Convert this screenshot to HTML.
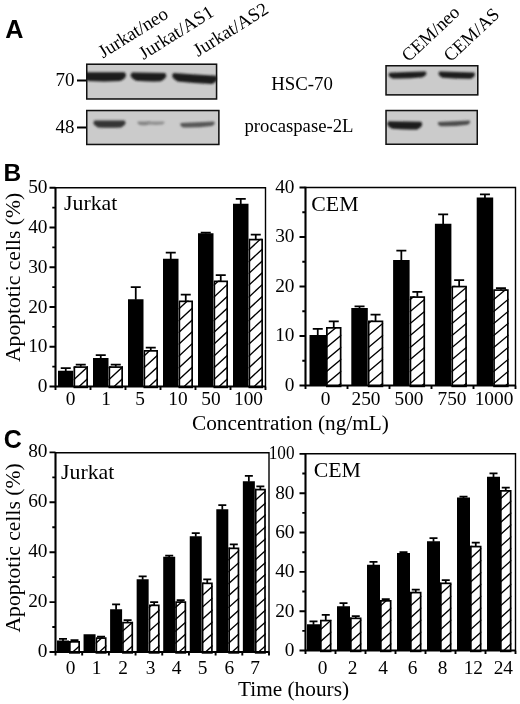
<!DOCTYPE html>
<html lang="en"><head><meta charset="utf-8"><title>Figure</title>
<style>html,body{margin:0;padding:0;background:#fff}svg{display:block}.ff-s{font-family:"Liberation Serif","Times New Roman",serif}.ff-a{font-family:"Liberation Sans",Arial,sans-serif}text{fill:#000}</style>
</head><body>
<svg width="520" height="704" viewBox="0 0 520 704">
<defs><filter id="b1" x="-20%" y="-50%" width="140%" height="200%"><feGaussianBlur stdDeviation="1.1"/></filter><filter id="b2" x="-20%" y="-50%" width="140%" height="200%"><feGaussianBlur stdDeviation="1.4"/></filter></defs>
<rect width="520" height="704" fill="#fff"/>
<text x="5.3" y="38" font-size="25.2" text-anchor="start" class="ff-a" font-weight="bold" >A</text>
<text x="3.6" y="181" font-size="24.5" text-anchor="start" class="ff-a" font-weight="bold" >B</text>
<text x="3.8" y="447.7" font-size="25" text-anchor="start" class="ff-a" font-weight="bold" >C</text>
<clipPath id="ka"><rect x="86" y="63.5" width="131.3" height="36.2"/></clipPath>
<rect x="86" y="63.5" width="131.3" height="36.2" fill="#cbcbcb"/>
<g clip-path="url(#ka)">
<path d="M84 72.3 Q104.25 72.3 124.5 72.3 Q128.9 76.7 120.1 81.10000000000001 Q104.25 81.9 88.4 81.10000000000001 Q79.6 76.7 84 72.3Z" fill="#1c1c1c" opacity="1" filter="url(#b1)"/>
<path d="M132 72.5 Q148.5 72.86 165 73.1 Q169.1 77.19999999999999 160.9 81.29999999999998 Q148.5 81.67999999999999 136.1 80.69999999999999 Q127.9 76.6 132 72.5Z" fill="#1c1c1c" opacity="1" filter="url(#b1)"/>
<path d="M173.5 73.1 Q194.9 74.66 216.3 75.69999999999999 Q220.5 79.89999999999999 212.10000000000002 84.1 Q194.9 83.08 177.7 81.5 Q169.3 77.3 173.5 73.1Z" fill="#1c1c1c" opacity="1" filter="url(#b1)"/>
</g>
<rect x="86.75" y="64.25" width="129.8" height="34.7" fill="none" stroke="#111" stroke-width="1.5"/>
<clipPath id="kb"><rect x="86" y="109.8" width="133.6" height="35.39999999999999"/></clipPath>
<rect x="86" y="109.8" width="133.6" height="35.39999999999999" fill="#cbcbcb"/>
<g clip-path="url(#kb)">
<path d="M94.5 120.6 Q109.5 120.6 124.5 120.6 Q127.9 124 121.1 127.4 Q109.5 128.20000000000002 97.9 127.4 Q91.1 124 94.5 120.6Z" fill="#353535" opacity="1" filter="url(#b1)"/>
<path d="M138 121.6 Q143.75 121.6 149.5 121.6 Q151.2 123.3 147.8 125.0 Q143.75 125.8 139.7 125.0 Q136.3 123.3 138 121.6Z" fill="#858585" opacity="1" filter="url(#b1)"/>
<path d="M148 121.6 Q156.0 121.6 164 121.6 Q165.5 123.1 162.5 124.6 Q156.0 125.39999999999999 149.5 124.6 Q146.5 123.1 148 121.6Z" fill="#909090" opacity="1" filter="url(#b1)"/>
<path d="M181 122.9 Q197.5 122.0 214 121.4 Q216.3 123.7 211.7 126.0 Q197.5 127.85 183.3 127.5 Q178.7 125.2 181 122.9Z" fill="#565656" opacity="1" filter="url(#b1)"/>
</g>
<rect x="86.75" y="110.55" width="132.1" height="33.89999999999999" fill="none" stroke="#111" stroke-width="1.5"/>
<clipPath id="kc"><rect x="385.3" y="65" width="93.19999999999999" height="30.599999999999994"/></clipPath>
<rect x="385.3" y="65" width="93.19999999999999" height="30.599999999999994" fill="#cbcbcb"/>
<g clip-path="url(#kc)">
<path d="M389.5 72.69999999999999 Q407.5 71.97999999999999 425.5 71.49999999999999 Q428.4 74.39999999999999 422.6 77.3 Q407.5 78.94 392.4 78.5 Q386.6 75.6 389.5 72.69999999999999Z" fill="#1c1c1c" opacity="1" filter="url(#b1)"/>
<path d="M439.5 71.5 Q456.75 72.1 474 72.5 Q477.1 75.6 470.9 78.69999999999999 Q456.75 78.79999999999998 442.6 77.69999999999999 Q436.4 74.6 439.5 71.5Z" fill="#1c1c1c" opacity="1" filter="url(#b1)"/>
</g>
<rect x="386.05" y="65.75" width="91.69999999999999" height="29.099999999999994" fill="none" stroke="#111" stroke-width="1.5"/>
<clipPath id="kd"><rect x="385.3" y="109.8" width="92.69999999999999" height="35.2"/></clipPath>
<rect x="385.3" y="109.8" width="92.69999999999999" height="35.2" fill="#cbcbcb"/>
<g clip-path="url(#kd)">
<path d="M388.5 121.2 Q404.75 121.56 421 121.8 Q424.8 125.6 417.2 129.4 Q404.75 129.78000000000003 392.3 128.8 Q384.7 125 388.5 121.2Z" fill="#1c1c1c" opacity="1" filter="url(#b1)"/>
<path d="M438.5 122.10000000000001 Q454.0 121.14000000000001 469.5 120.50000000000001 Q471.6 122.60000000000001 467.4 124.7 Q454.0 126.61999999999999 440.6 126.3 Q436.4 124.2 438.5 122.10000000000001Z" fill="#4c4c4c" opacity="1" filter="url(#b1)"/>
</g>
<rect x="386.05" y="110.55" width="91.19999999999999" height="33.7" fill="none" stroke="#111" stroke-width="1.5"/>
<text x="74.5" y="85.5" font-size="19" text-anchor="end" class="ff-s" font-weight="normal" >70</text>
<text x="74.5" y="133" font-size="19" text-anchor="end" class="ff-s" font-weight="normal" >48</text>
<path d="M77 80.5H86M77 127.5H86" stroke="#000" stroke-width="1.9"/>
<text x="271.3" y="89.8" font-size="18.8" text-anchor="start" class="ff-s" font-weight="normal" >HSC-70</text>
<text x="244.5" y="132.3" font-size="18.7" text-anchor="start" class="ff-s" font-weight="normal" >procaspase-2L</text>
<text transform="translate(103 58.5) rotate(-32)" font-size="18.8" class="ff-s">Jurkat/neo</text>
<text transform="translate(143.5 60) rotate(-32)" font-size="18.8" class="ff-s">Jurkat/AS1</text>
<text transform="translate(198 57) rotate(-32)" font-size="18.8" class="ff-s">Jurkat/AS2</text>
<text transform="translate(408.5 62.5) rotate(-43)" font-size="18.4" class="ff-s">CEM/neo</text>
<text transform="translate(450.5 62.5) rotate(-43)" font-size="18.4" class="ff-s">CEM/AS</text>
<path d="M55.5 187.7H265.5V386.5" stroke="#000" stroke-width="1.4" fill="none"/>
<rect x="58" y="370.75" width="15.5" height="15.75" fill="#000"/>
<path d="M65.75 371.25V368M60.75 368H70.75" stroke="#000" stroke-width="1.75" fill="none"/>
<clipPath id="c1"><rect x="73.5" y="366.25" width="14.5" height="20.25"/></clipPath>
<rect x="73.5" y="366.25" width="14.5" height="20.25" fill="#fff"/>
<path d="M73.50 403.60L88.00 390.12M73.50 391.80L88.00 378.31M73.50 380.00L88.00 366.51M73.50 368.20L88.00 354.71" stroke="#000" stroke-width="1.35" fill="none" clip-path="url(#c1)"/>
<rect x="74.35" y="367.1" width="12.8" height="20.25" fill="none" stroke="#000" stroke-width="1.7"/>
<path d="M80.75 366.75V364.5M75.75 364.5H85.75" stroke="#000" stroke-width="1.75" fill="none"/>
<rect x="93" y="358" width="15.5" height="28.5" fill="#000"/>
<path d="M100.75 358.5V355M95.75 355H105.75" stroke="#000" stroke-width="1.75" fill="none"/>
<clipPath id="c2"><rect x="108.5" y="366.25" width="14.5" height="20.25"/></clipPath>
<rect x="108.5" y="366.25" width="14.5" height="20.25" fill="#fff"/>
<path d="M108.50 403.60L123.00 390.12M108.50 391.80L123.00 378.31M108.50 380.00L123.00 366.51M108.50 368.20L123.00 354.71" stroke="#000" stroke-width="1.35" fill="none" clip-path="url(#c2)"/>
<rect x="109.35" y="367.1" width="12.8" height="20.25" fill="none" stroke="#000" stroke-width="1.7"/>
<path d="M115.75 366.75V364.5M110.75 364.5H120.75" stroke="#000" stroke-width="1.75" fill="none"/>
<rect x="128" y="299.25" width="15.5" height="87.25" fill="#000"/>
<path d="M135.75 299.75V287M130.75 287H140.75" stroke="#000" stroke-width="1.75" fill="none"/>
<clipPath id="c3"><rect x="143.5" y="350" width="14.5" height="36.5"/></clipPath>
<rect x="143.5" y="350" width="14.5" height="36.5" fill="#fff"/>
<path d="M143.50 403.60L158.00 390.12M143.50 391.80L158.00 378.31M143.50 380.00L158.00 366.51M143.50 368.20L158.00 354.71M143.50 356.40L158.00 342.91" stroke="#000" stroke-width="1.35" fill="none" clip-path="url(#c3)"/>
<rect x="144.35" y="350.85" width="12.8" height="36.5" fill="none" stroke="#000" stroke-width="1.7"/>
<path d="M150.75 350.5V347.5M145.75 347.5H155.75" stroke="#000" stroke-width="1.75" fill="none"/>
<rect x="163" y="258.75" width="15.5" height="127.75" fill="#000"/>
<path d="M170.75 259.25V252.5M165.75 252.5H175.75" stroke="#000" stroke-width="1.75" fill="none"/>
<clipPath id="c4"><rect x="178.5" y="300.5" width="14.5" height="86.0"/></clipPath>
<rect x="178.5" y="300.5" width="14.5" height="86.0" fill="#fff"/>
<path d="M178.50 403.60L193.00 390.12M178.50 391.80L193.00 378.31M178.50 380.00L193.00 366.51M178.50 368.20L193.00 354.71M178.50 356.40L193.00 342.91M178.50 344.60L193.00 331.11M178.50 332.80L193.00 319.31M178.50 321.00L193.00 307.51M178.50 309.20L193.00 295.71" stroke="#000" stroke-width="1.35" fill="none" clip-path="url(#c4)"/>
<rect x="179.35" y="301.35" width="12.8" height="86.0" fill="none" stroke="#000" stroke-width="1.7"/>
<path d="M185.75 301.0V294.5M180.75 294.5H190.75" stroke="#000" stroke-width="1.75" fill="none"/>
<rect x="198" y="233.25" width="15.5" height="153.25" fill="#000"/>
<path d="M205.75 233.75V232.6M200.75 232.6H210.75" stroke="#000" stroke-width="1.75" fill="none"/>
<clipPath id="c5"><rect x="213.5" y="280.5" width="14.5" height="106.0"/></clipPath>
<rect x="213.5" y="280.5" width="14.5" height="106.0" fill="#fff"/>
<path d="M213.50 403.60L228.00 390.12M213.50 391.80L228.00 378.31M213.50 380.00L228.00 366.51M213.50 368.20L228.00 354.71M213.50 356.40L228.00 342.91M213.50 344.60L228.00 331.11M213.50 332.80L228.00 319.31M213.50 321.00L228.00 307.51M213.50 309.20L228.00 295.71M213.50 297.40L228.00 283.91M213.50 285.60L228.00 272.11" stroke="#000" stroke-width="1.35" fill="none" clip-path="url(#c5)"/>
<rect x="214.35" y="281.35" width="12.8" height="106.0" fill="none" stroke="#000" stroke-width="1.7"/>
<path d="M220.75 281.0V275M215.75 275H225.75" stroke="#000" stroke-width="1.75" fill="none"/>
<rect x="233" y="203.75" width="15.5" height="182.75" fill="#000"/>
<path d="M240.75 204.25V198.75M235.75 198.75H245.75" stroke="#000" stroke-width="1.75" fill="none"/>
<clipPath id="c6"><rect x="248.5" y="238.75" width="14.5" height="147.75"/></clipPath>
<rect x="248.5" y="238.75" width="14.5" height="147.75" fill="#fff"/>
<path d="M248.50 403.60L263.00 390.12M248.50 391.80L263.00 378.31M248.50 380.00L263.00 366.51M248.50 368.20L263.00 354.71M248.50 356.40L263.00 342.91M248.50 344.60L263.00 331.11M248.50 332.80L263.00 319.31M248.50 321.00L263.00 307.51M248.50 309.20L263.00 295.71M248.50 297.40L263.00 283.91M248.50 285.60L263.00 272.11M248.50 273.80L263.00 260.31M248.50 262.00L263.00 248.51M248.50 250.20L263.00 236.71M248.50 238.40L263.00 224.91" stroke="#000" stroke-width="1.35" fill="none" clip-path="url(#c6)"/>
<rect x="249.35" y="239.6" width="12.8" height="147.75" fill="none" stroke="#000" stroke-width="1.7"/>
<path d="M255.75 239.25V234.5M250.75 234.5H260.75" stroke="#000" stroke-width="1.75" fill="none"/>
<path d="M55.5 186.89999999999998V386.5M54.7 386.5H266.0" stroke="#000" stroke-width="2.1" fill="none"/>
<path d="M49.5 386.50H55.5M49.5 346.75H55.5M49.5 307.00H55.5M49.5 267.25H55.5M49.5 227.50H55.5M49.5 187.75H55.5M52.3 366.62H55.5M52.3 326.88H55.5M52.3 287.12H55.5M52.3 247.38H55.5M52.3 207.62H55.5M55.50 386.5V390.0M90.50 386.5V390.0M125.50 386.5V390.0M160.50 386.5V390.0M195.50 386.5V390.0M230.50 386.5V390.0M265.50 386.5V390.0" stroke="#000" stroke-width="1.9" fill="none"/>
<text transform="translate(47.5 392.0) scale(1.07 1)" font-size="18.1" text-anchor="end" class="ff-s" >0</text>
<text transform="translate(47.5 352.25) scale(1.07 1)" font-size="18.1" text-anchor="end" class="ff-s" >10</text>
<text transform="translate(47.5 312.5) scale(1.07 1)" font-size="18.1" text-anchor="end" class="ff-s" >20</text>
<text transform="translate(47.5 272.75) scale(1.07 1)" font-size="18.1" text-anchor="end" class="ff-s" >30</text>
<text transform="translate(47.5 233.0) scale(1.07 1)" font-size="18.1" text-anchor="end" class="ff-s" >40</text>
<text transform="translate(47.5 193.25) scale(1.07 1)" font-size="18.1" text-anchor="end" class="ff-s" >50</text>
<text transform="translate(70.5 405) scale(1.07 1)" font-size="18.1" text-anchor="middle" class="ff-s" >0</text>
<text transform="translate(106 405) scale(1.07 1)" font-size="18.1" text-anchor="middle" class="ff-s" >1</text>
<text transform="translate(140 405) scale(1.07 1)" font-size="18.1" text-anchor="middle" class="ff-s" >5</text>
<text transform="translate(178 405) scale(1.07 1)" font-size="18.1" text-anchor="middle" class="ff-s" >10</text>
<text transform="translate(211 405) scale(1.07 1)" font-size="18.1" text-anchor="middle" class="ff-s" >50</text>
<text transform="translate(248.5 405) scale(1.07 1)" font-size="18.1" text-anchor="middle" class="ff-s" >100</text>
<text x="64" y="209.5" font-size="21.8" text-anchor="start" class="ff-s" font-weight="normal" >Jurkat</text>
<path d="M305.5 187.5H515.5V385.5" stroke="#000" stroke-width="1.4" fill="none"/>
<rect x="309.5" y="335" width="16.5" height="50.5" fill="#000"/>
<path d="M317.75 335.5V328.75M312.75 328.75H322.75" stroke="#000" stroke-width="1.75" fill="none"/>
<clipPath id="c7"><rect x="326.0" y="327" width="15.5" height="58.5"/></clipPath>
<rect x="326.0" y="327" width="15.5" height="58.5" fill="#fff"/>
<path d="M326.00 408.00L341.50 394.98M326.00 396.00L341.50 382.98M326.00 384.00L341.50 370.98M326.00 372.00L341.50 358.98M326.00 360.00L341.50 346.98M326.00 348.00L341.50 334.98M326.00 336.00L341.50 322.98" stroke="#000" stroke-width="1.35" fill="none" clip-path="url(#c7)"/>
<rect x="326.85" y="327.85" width="13.8" height="58.5" fill="none" stroke="#000" stroke-width="1.7"/>
<path d="M333.75 327.5V321.25M328.75 321.25H338.75" stroke="#000" stroke-width="1.75" fill="none"/>
<rect x="351.3" y="308" width="16.5" height="77.5" fill="#000"/>
<path d="M359.55 308.5V306.25M354.55 306.25H364.55" stroke="#000" stroke-width="1.75" fill="none"/>
<clipPath id="c8"><rect x="367.8" y="320.5" width="15.5" height="65.0"/></clipPath>
<rect x="367.8" y="320.5" width="15.5" height="65.0" fill="#fff"/>
<path d="M367.80 408.00L383.30 394.98M367.80 396.00L383.30 382.98M367.80 384.00L383.30 370.98M367.80 372.00L383.30 358.98M367.80 360.00L383.30 346.98M367.80 348.00L383.30 334.98M367.80 336.00L383.30 322.98M367.80 324.00L383.30 310.98" stroke="#000" stroke-width="1.35" fill="none" clip-path="url(#c8)"/>
<rect x="368.65000000000003" y="321.35" width="13.8" height="65.0" fill="none" stroke="#000" stroke-width="1.7"/>
<path d="M375.55 321.0V314.5M370.55 314.5H380.55" stroke="#000" stroke-width="1.75" fill="none"/>
<rect x="393.1" y="260" width="16.5" height="125.5" fill="#000"/>
<path d="M401.35 260.5V250.5M396.35 250.5H406.35" stroke="#000" stroke-width="1.75" fill="none"/>
<clipPath id="c9"><rect x="409.6" y="296.25" width="15.5" height="89.25"/></clipPath>
<rect x="409.6" y="296.25" width="15.5" height="89.25" fill="#fff"/>
<path d="M409.60 408.00L425.10 394.98M409.60 396.00L425.10 382.98M409.60 384.00L425.10 370.98M409.60 372.00L425.10 358.98M409.60 360.00L425.10 346.98M409.60 348.00L425.10 334.98M409.60 336.00L425.10 322.98M409.60 324.00L425.10 310.98M409.60 312.00L425.10 298.98M409.60 300.00L425.10 286.98" stroke="#000" stroke-width="1.35" fill="none" clip-path="url(#c9)"/>
<rect x="410.45000000000005" y="297.1" width="13.8" height="89.25" fill="none" stroke="#000" stroke-width="1.7"/>
<path d="M417.35 296.75V291.75M412.35 291.75H422.35" stroke="#000" stroke-width="1.75" fill="none"/>
<rect x="434.9" y="223.75" width="16.5" height="161.75" fill="#000"/>
<path d="M443.15 224.25V214.25M438.15 214.25H448.15" stroke="#000" stroke-width="1.75" fill="none"/>
<clipPath id="c10"><rect x="451.4" y="285.75" width="15.5" height="99.75"/></clipPath>
<rect x="451.4" y="285.75" width="15.5" height="99.75" fill="#fff"/>
<path d="M451.40 408.00L466.90 394.98M451.40 396.00L466.90 382.98M451.40 384.00L466.90 370.98M451.40 372.00L466.90 358.98M451.40 360.00L466.90 346.98M451.40 348.00L466.90 334.98M451.40 336.00L466.90 322.98M451.40 324.00L466.90 310.98M451.40 312.00L466.90 298.98M451.40 300.00L466.90 286.98M451.40 288.00L466.90 274.98" stroke="#000" stroke-width="1.35" fill="none" clip-path="url(#c10)"/>
<rect x="452.25" y="286.6" width="13.8" height="99.75" fill="none" stroke="#000" stroke-width="1.7"/>
<path d="M459.15 286.25V280M454.15 280H464.15" stroke="#000" stroke-width="1.75" fill="none"/>
<rect x="476.7" y="197.5" width="16.5" height="188.0" fill="#000"/>
<path d="M484.95 198.0V194.25M479.95 194.25H489.95" stroke="#000" stroke-width="1.75" fill="none"/>
<clipPath id="c11"><rect x="493.2" y="289.25" width="15.5" height="96.25"/></clipPath>
<rect x="493.2" y="289.25" width="15.5" height="96.25" fill="#fff"/>
<path d="M493.20 408.00L508.70 394.98M493.20 396.00L508.70 382.98M493.20 384.00L508.70 370.98M493.20 372.00L508.70 358.98M493.20 360.00L508.70 346.98M493.20 348.00L508.70 334.98M493.20 336.00L508.70 322.98M493.20 324.00L508.70 310.98M493.20 312.00L508.70 298.98M493.20 300.00L508.70 286.98M493.20 288.00L508.70 274.98" stroke="#000" stroke-width="1.35" fill="none" clip-path="url(#c11)"/>
<rect x="494.05" y="290.1" width="13.8" height="96.25" fill="none" stroke="#000" stroke-width="1.7"/>
<path d="M500.95 289.75V288M495.95 288H505.95" stroke="#000" stroke-width="1.75" fill="none"/>
<path d="M305.5 186.7V385.5M304.7 385.5H516.0" stroke="#000" stroke-width="2.1" fill="none"/>
<path d="M299.5 385.50H305.5M299.5 336.00H305.5M299.5 286.50H305.5M299.5 237.00H305.5M299.5 187.50H305.5M302.3 360.75H305.5M302.3 311.25H305.5M302.3 261.75H305.5M302.3 212.25H305.5M305.50 385.5V389.0M347.50 385.5V389.0M389.50 385.5V389.0M431.50 385.5V389.0M473.50 385.5V389.0M515.50 385.5V389.0" stroke="#000" stroke-width="1.9" fill="none"/>
<text transform="translate(294.5 390.5) scale(1.07 1)" font-size="18.1" text-anchor="end" class="ff-s" >0</text>
<text transform="translate(294.5 341.0) scale(1.07 1)" font-size="18.1" text-anchor="end" class="ff-s" >10</text>
<text transform="translate(294.5 291.5) scale(1.07 1)" font-size="18.1" text-anchor="end" class="ff-s" >20</text>
<text transform="translate(294.5 242.0) scale(1.07 1)" font-size="18.1" text-anchor="end" class="ff-s" >30</text>
<text transform="translate(294.5 192.5) scale(1.07 1)" font-size="18.1" text-anchor="end" class="ff-s" >40</text>
<text transform="translate(325.5 405) scale(1.07 1)" font-size="18.1" text-anchor="middle" class="ff-s" >0</text>
<text transform="translate(366 405) scale(1.07 1)" font-size="18.1" text-anchor="middle" class="ff-s" >250</text>
<text transform="translate(409 405) scale(1.07 1)" font-size="18.1" text-anchor="middle" class="ff-s" >500</text>
<text transform="translate(452 405) scale(1.07 1)" font-size="18.1" text-anchor="middle" class="ff-s" >750</text>
<text transform="translate(494 405) scale(1.07 1)" font-size="18.1" text-anchor="middle" class="ff-s" >1000</text>
<text x="311.3" y="211.2" font-size="21.8" text-anchor="start" class="ff-s" font-weight="normal" >CEM</text>
<text x="192" y="430" font-size="21.3" text-anchor="start" class="ff-s" font-weight="normal" >Concentration (ng/mL)</text>
<text transform="translate(19.7 362) rotate(-90)" font-size="21.6" class="ff-s">Apoptotic cells (%)</text>
<path d="M55.5 452.7H269V652" stroke="#000" stroke-width="1.4" fill="none"/>
<rect x="57.0" y="640.5" width="12.0" height="11.5" fill="#000"/>
<path d="M63.0 641.0V638.75M59.0 638.75H67.0" stroke="#000" stroke-width="1.75" fill="none"/>
<clipPath id="c12"><rect x="69.0" y="641" width="11.0" height="11"/></clipPath>
<rect x="69.0" y="641" width="11.0" height="11" fill="#fff"/>
<path d="M69.00 667.30L80.00 657.40M69.00 655.40L80.00 645.50M69.00 643.50L80.00 633.60" stroke="#000" stroke-width="1.35" fill="none" clip-path="url(#c12)"/>
<rect x="69.85" y="641.85" width="9.3" height="11" fill="none" stroke="#000" stroke-width="1.7"/>
<path d="M74.5 641.5V640M70.5 640H78.5" stroke="#000" stroke-width="1.75" fill="none"/>
<rect x="83.55" y="634.25" width="12.0" height="17.75" fill="#000"/>
<clipPath id="c13"><rect x="95.55" y="637.25" width="11.0" height="14.75"/></clipPath>
<rect x="95.55" y="637.25" width="11.0" height="14.75" fill="#fff"/>
<path d="M95.55 667.30L106.55 657.40M95.55 655.40L106.55 645.50M95.55 643.50L106.55 633.60" stroke="#000" stroke-width="1.35" fill="none" clip-path="url(#c13)"/>
<rect x="96.39999999999999" y="638.1" width="9.3" height="14.75" fill="none" stroke="#000" stroke-width="1.7"/>
<path d="M101.05 637.75V636.5M97.05 636.5H105.05" stroke="#000" stroke-width="1.75" fill="none"/>
<rect x="110.1" y="609.25" width="12.0" height="42.75" fill="#000"/>
<path d="M116.1 609.75V604.25M112.1 604.25H120.1" stroke="#000" stroke-width="1.75" fill="none"/>
<clipPath id="c14"><rect x="122.1" y="621.75" width="11.0" height="30.25"/></clipPath>
<rect x="122.1" y="621.75" width="11.0" height="30.25" fill="#fff"/>
<path d="M122.10 667.30L133.10 657.40M122.10 655.40L133.10 645.50M122.10 643.50L133.10 633.60M122.10 631.60L133.10 621.70" stroke="#000" stroke-width="1.35" fill="none" clip-path="url(#c14)"/>
<rect x="122.94999999999999" y="622.6" width="9.3" height="30.25" fill="none" stroke="#000" stroke-width="1.7"/>
<path d="M127.6 622.25V620M123.6 620H131.6" stroke="#000" stroke-width="1.75" fill="none"/>
<rect x="136.65" y="579.25" width="12.0" height="72.75" fill="#000"/>
<path d="M142.65 579.75V576.25M138.65 576.25H146.65" stroke="#000" stroke-width="1.75" fill="none"/>
<clipPath id="c15"><rect x="148.65" y="604.5" width="11.0" height="47.5"/></clipPath>
<rect x="148.65" y="604.5" width="11.0" height="47.5" fill="#fff"/>
<path d="M148.65 667.30L159.65 657.40M148.65 655.40L159.65 645.50M148.65 643.50L159.65 633.60M148.65 631.60L159.65 621.70M148.65 619.70L159.65 609.80M148.65 607.80L159.65 597.90" stroke="#000" stroke-width="1.35" fill="none" clip-path="url(#c15)"/>
<rect x="149.5" y="605.35" width="9.3" height="47.5" fill="none" stroke="#000" stroke-width="1.7"/>
<path d="M154.15 605.0V602M150.15 602H158.15" stroke="#000" stroke-width="1.75" fill="none"/>
<rect x="163.2" y="556.75" width="12.0" height="95.25" fill="#000"/>
<path d="M169.2 557.25V555.5M165.2 555.5H173.2" stroke="#000" stroke-width="1.75" fill="none"/>
<clipPath id="c16"><rect x="175.2" y="601.25" width="11.0" height="50.75"/></clipPath>
<rect x="175.2" y="601.25" width="11.0" height="50.75" fill="#fff"/>
<path d="M175.20 667.30L186.20 657.40M175.20 655.40L186.20 645.50M175.20 643.50L186.20 633.60M175.20 631.60L186.20 621.70M175.20 619.70L186.20 609.80M175.20 607.80L186.20 597.90" stroke="#000" stroke-width="1.35" fill="none" clip-path="url(#c16)"/>
<rect x="176.04999999999998" y="602.1" width="9.3" height="50.75" fill="none" stroke="#000" stroke-width="1.7"/>
<path d="M180.7 601.75V600M176.7 600H184.7" stroke="#000" stroke-width="1.75" fill="none"/>
<rect x="189.75" y="536.25" width="12.0" height="115.75" fill="#000"/>
<path d="M195.75 536.75V533M191.75 533H199.75" stroke="#000" stroke-width="1.75" fill="none"/>
<clipPath id="c17"><rect x="201.75" y="582.5" width="11.0" height="69.5"/></clipPath>
<rect x="201.75" y="582.5" width="11.0" height="69.5" fill="#fff"/>
<path d="M201.75 667.30L212.75 657.40M201.75 655.40L212.75 645.50M201.75 643.50L212.75 633.60M201.75 631.60L212.75 621.70M201.75 619.70L212.75 609.80M201.75 607.80L212.75 597.90M201.75 595.90L212.75 586.00M201.75 584.00L212.75 574.10" stroke="#000" stroke-width="1.35" fill="none" clip-path="url(#c17)"/>
<rect x="202.6" y="583.35" width="9.3" height="69.5" fill="none" stroke="#000" stroke-width="1.7"/>
<path d="M207.25 583.0V579.25M203.25 579.25H211.25" stroke="#000" stroke-width="1.75" fill="none"/>
<rect x="216.3" y="509.25" width="12.0" height="142.75" fill="#000"/>
<path d="M222.3 509.75V505M218.3 505H226.3" stroke="#000" stroke-width="1.75" fill="none"/>
<clipPath id="c18"><rect x="228.3" y="547.5" width="11.0" height="104.5"/></clipPath>
<rect x="228.3" y="547.5" width="11.0" height="104.5" fill="#fff"/>
<path d="M228.30 667.30L239.30 657.40M228.30 655.40L239.30 645.50M228.30 643.50L239.30 633.60M228.30 631.60L239.30 621.70M228.30 619.70L239.30 609.80M228.30 607.80L239.30 597.90M228.30 595.90L239.30 586.00M228.30 584.00L239.30 574.10M228.30 572.10L239.30 562.20M228.30 560.20L239.30 550.30M228.30 548.30L239.30 538.40" stroke="#000" stroke-width="1.35" fill="none" clip-path="url(#c18)"/>
<rect x="229.15" y="548.35" width="9.3" height="104.5" fill="none" stroke="#000" stroke-width="1.7"/>
<path d="M233.8 548.0V544.25M229.8 544.25H237.8" stroke="#000" stroke-width="1.75" fill="none"/>
<rect x="242.85" y="481.25" width="12.0" height="170.75" fill="#000"/>
<path d="M248.85 481.75V475.75M244.85 475.75H252.85" stroke="#000" stroke-width="1.75" fill="none"/>
<clipPath id="c19"><rect x="254.85" y="488.75" width="11.000000000000028" height="163.25"/></clipPath>
<rect x="254.85" y="488.75" width="11.000000000000028" height="163.25" fill="#fff"/>
<path d="M254.85 667.30L265.85 657.40M254.85 655.40L265.85 645.50M254.85 643.50L265.85 633.60M254.85 631.60L265.85 621.70M254.85 619.70L265.85 609.80M254.85 607.80L265.85 597.90M254.85 595.90L265.85 586.00M254.85 584.00L265.85 574.10M254.85 572.10L265.85 562.20M254.85 560.20L265.85 550.30M254.85 548.30L265.85 538.40M254.85 536.40L265.85 526.50M254.85 524.50L265.85 514.60M254.85 512.60L265.85 502.70M254.85 500.70L265.85 490.80M254.85 488.80L265.85 478.90" stroke="#000" stroke-width="1.35" fill="none" clip-path="url(#c19)"/>
<rect x="255.7" y="489.6" width="9.30000000000003" height="163.25" fill="none" stroke="#000" stroke-width="1.7"/>
<path d="M260.35 489.25V486.25M256.35 486.25H264.35" stroke="#000" stroke-width="1.75" fill="none"/>
<path d="M55.5 451.9V652M54.7 652H269.5" stroke="#000" stroke-width="2.1" fill="none"/>
<path d="M49.5 652.00H55.5M49.5 602.10H55.5M49.5 552.20H55.5M49.5 502.30H55.5M49.5 452.40H55.5M52.3 627.05H55.5M52.3 577.15H55.5M52.3 527.25H55.5M52.3 477.35H55.5M55.50 652V655.5M82.19 652V655.5M108.88 652V655.5M135.56 652V655.5M162.25 652V655.5M188.94 652V655.5M215.62 652V655.5M242.31 652V655.5M269.00 652V655.5" stroke="#000" stroke-width="1.9" fill="none"/>
<text transform="translate(47.5 657.0) scale(1.07 1)" font-size="18.1" text-anchor="end" class="ff-s" >0</text>
<text transform="translate(47.5 607.1) scale(1.07 1)" font-size="18.1" text-anchor="end" class="ff-s" >20</text>
<text transform="translate(47.5 557.2) scale(1.07 1)" font-size="18.1" text-anchor="end" class="ff-s" >40</text>
<text transform="translate(47.5 507.3) scale(1.07 1)" font-size="18.1" text-anchor="end" class="ff-s" >60</text>
<text transform="translate(47.5 457.4) scale(1.07 1)" font-size="18.1" text-anchor="end" class="ff-s" >80</text>
<text transform="translate(70.5 673.5) scale(1.07 1)" font-size="18.1" text-anchor="middle" class="ff-s" >0</text>
<text transform="translate(96.5 673.5) scale(1.07 1)" font-size="18.1" text-anchor="middle" class="ff-s" >1</text>
<text transform="translate(123 673.5) scale(1.07 1)" font-size="18.1" text-anchor="middle" class="ff-s" >2</text>
<text transform="translate(150.5 673.5) scale(1.07 1)" font-size="18.1" text-anchor="middle" class="ff-s" >3</text>
<text transform="translate(176.5 673.5) scale(1.07 1)" font-size="18.1" text-anchor="middle" class="ff-s" >4</text>
<text transform="translate(202.5 673.5) scale(1.07 1)" font-size="18.1" text-anchor="middle" class="ff-s" >5</text>
<text transform="translate(229.3 673.5) scale(1.07 1)" font-size="18.1" text-anchor="middle" class="ff-s" >6</text>
<text transform="translate(255 673.5) scale(1.07 1)" font-size="18.1" text-anchor="middle" class="ff-s" >7</text>
<text x="61" y="479.3" font-size="21.8" text-anchor="start" class="ff-s" font-weight="normal" >Jurkat</text>
<path d="M305.5 453.7H515.5V650.5" stroke="#000" stroke-width="1.4" fill="none"/>
<rect x="307" y="624.25" width="13" height="26.25" fill="#000"/>
<path d="M313.5 624.75V621.25M309.5 621.25H317.5" stroke="#000" stroke-width="1.75" fill="none"/>
<clipPath id="c20"><rect x="320" y="619.75" width="11.5" height="30.75"/></clipPath>
<rect x="320" y="619.75" width="11.5" height="30.75" fill="#fff"/>
<path d="M320.00 665.80L331.50 655.45M320.00 653.90L331.50 643.55M320.00 642.00L331.50 631.65M320.00 630.10L331.50 619.75M320.00 618.20L331.50 607.85" stroke="#000" stroke-width="1.35" fill="none" clip-path="url(#c20)"/>
<rect x="320.85" y="620.6" width="9.8" height="30.75" fill="none" stroke="#000" stroke-width="1.7"/>
<path d="M325.75 620.25V614.75M321.75 614.75H329.75" stroke="#000" stroke-width="1.75" fill="none"/>
<rect x="337" y="606.25" width="13" height="44.25" fill="#000"/>
<path d="M343.5 606.75V603M339.5 603H347.5" stroke="#000" stroke-width="1.75" fill="none"/>
<clipPath id="c21"><rect x="350" y="617.5" width="11.5" height="33.0"/></clipPath>
<rect x="350" y="617.5" width="11.5" height="33.0" fill="#fff"/>
<path d="M350.00 665.80L361.50 655.45M350.00 653.90L361.50 643.55M350.00 642.00L361.50 631.65M350.00 630.10L361.50 619.75M350.00 618.20L361.50 607.85" stroke="#000" stroke-width="1.35" fill="none" clip-path="url(#c21)"/>
<rect x="350.85" y="618.35" width="9.8" height="33.0" fill="none" stroke="#000" stroke-width="1.7"/>
<path d="M355.75 618.0V616M351.75 616H359.75" stroke="#000" stroke-width="1.75" fill="none"/>
<rect x="367" y="564.75" width="13" height="85.75" fill="#000"/>
<path d="M373.5 565.25V561.75M369.5 561.75H377.5" stroke="#000" stroke-width="1.75" fill="none"/>
<clipPath id="c22"><rect x="380" y="600" width="11.5" height="50.5"/></clipPath>
<rect x="380" y="600" width="11.5" height="50.5" fill="#fff"/>
<path d="M380.00 665.80L391.50 655.45M380.00 653.90L391.50 643.55M380.00 642.00L391.50 631.65M380.00 630.10L391.50 619.75M380.00 618.20L391.50 607.85M380.00 606.30L391.50 595.95" stroke="#000" stroke-width="1.35" fill="none" clip-path="url(#c22)"/>
<rect x="380.85" y="600.85" width="9.8" height="50.5" fill="none" stroke="#000" stroke-width="1.7"/>
<path d="M385.75 600.5V599M381.75 599H389.75" stroke="#000" stroke-width="1.75" fill="none"/>
<rect x="397" y="553" width="13" height="97.5" fill="#000"/>
<path d="M403.5 553.5V552M399.5 552H407.5" stroke="#000" stroke-width="1.75" fill="none"/>
<clipPath id="c23"><rect x="410" y="591.75" width="11.5" height="58.75"/></clipPath>
<rect x="410" y="591.75" width="11.5" height="58.75" fill="#fff"/>
<path d="M410.00 665.80L421.50 655.45M410.00 653.90L421.50 643.55M410.00 642.00L421.50 631.65M410.00 630.10L421.50 619.75M410.00 618.20L421.50 607.85M410.00 606.30L421.50 595.95M410.00 594.40L421.50 584.05" stroke="#000" stroke-width="1.35" fill="none" clip-path="url(#c23)"/>
<rect x="410.85" y="592.6" width="9.8" height="58.75" fill="none" stroke="#000" stroke-width="1.7"/>
<path d="M415.75 592.25V589.5M411.75 589.5H419.75" stroke="#000" stroke-width="1.75" fill="none"/>
<rect x="427" y="541.25" width="13" height="109.25" fill="#000"/>
<path d="M433.5 541.75V538M429.5 538H437.5" stroke="#000" stroke-width="1.75" fill="none"/>
<clipPath id="c24"><rect x="440" y="582.5" width="11.5" height="68.0"/></clipPath>
<rect x="440" y="582.5" width="11.5" height="68.0" fill="#fff"/>
<path d="M440.00 665.80L451.50 655.45M440.00 653.90L451.50 643.55M440.00 642.00L451.50 631.65M440.00 630.10L451.50 619.75M440.00 618.20L451.50 607.85M440.00 606.30L451.50 595.95M440.00 594.40L451.50 584.05M440.00 582.50L451.50 572.15" stroke="#000" stroke-width="1.35" fill="none" clip-path="url(#c24)"/>
<rect x="440.85" y="583.35" width="9.8" height="68.0" fill="none" stroke="#000" stroke-width="1.7"/>
<path d="M445.75 583.0V580M441.75 580H449.75" stroke="#000" stroke-width="1.75" fill="none"/>
<rect x="457" y="497.5" width="13" height="153.0" fill="#000"/>
<path d="M463.5 498.0V496.5M459.5 496.5H467.5" stroke="#000" stroke-width="1.75" fill="none"/>
<clipPath id="c25"><rect x="470" y="545.75" width="11.5" height="104.75"/></clipPath>
<rect x="470" y="545.75" width="11.5" height="104.75" fill="#fff"/>
<path d="M470.00 665.80L481.50 655.45M470.00 653.90L481.50 643.55M470.00 642.00L481.50 631.65M470.00 630.10L481.50 619.75M470.00 618.20L481.50 607.85M470.00 606.30L481.50 595.95M470.00 594.40L481.50 584.05M470.00 582.50L481.50 572.15M470.00 570.60L481.50 560.25M470.00 558.70L481.50 548.35M470.00 546.80L481.50 536.45" stroke="#000" stroke-width="1.35" fill="none" clip-path="url(#c25)"/>
<rect x="470.85" y="546.6" width="9.8" height="104.75" fill="none" stroke="#000" stroke-width="1.7"/>
<path d="M475.75 546.25V542.5M471.75 542.5H479.75" stroke="#000" stroke-width="1.75" fill="none"/>
<rect x="487" y="476.75" width="13" height="173.75" fill="#000"/>
<path d="M493.5 477.25V473.25M489.5 473.25H497.5" stroke="#000" stroke-width="1.75" fill="none"/>
<clipPath id="c26"><rect x="500" y="490" width="11.5" height="160.5"/></clipPath>
<rect x="500" y="490" width="11.5" height="160.5" fill="#fff"/>
<path d="M500.00 665.80L511.50 655.45M500.00 653.90L511.50 643.55M500.00 642.00L511.50 631.65M500.00 630.10L511.50 619.75M500.00 618.20L511.50 607.85M500.00 606.30L511.50 595.95M500.00 594.40L511.50 584.05M500.00 582.50L511.50 572.15M500.00 570.60L511.50 560.25M500.00 558.70L511.50 548.35M500.00 546.80L511.50 536.45M500.00 534.90L511.50 524.55M500.00 523.00L511.50 512.65M500.00 511.10L511.50 500.75M500.00 499.20L511.50 488.85" stroke="#000" stroke-width="1.35" fill="none" clip-path="url(#c26)"/>
<rect x="500.85" y="490.85" width="9.8" height="160.5" fill="none" stroke="#000" stroke-width="1.7"/>
<path d="M505.75 490.5V487.5M501.75 487.5H509.75" stroke="#000" stroke-width="1.75" fill="none"/>
<path d="M305.5 452.9V650.5M304.7 650.5H516.0" stroke="#000" stroke-width="2.1" fill="none"/>
<path d="M299.5 650.50H305.5M299.5 611.18H305.5M299.5 571.86H305.5M299.5 532.54H305.5M299.5 493.22H305.5M299.5 453.90H305.5M302.3 630.84H305.5M302.3 591.52H305.5M302.3 552.20H305.5M302.3 512.88H305.5M302.3 473.56H305.5M305.50 650.5V654.0M335.50 650.5V654.0M365.50 650.5V654.0M395.50 650.5V654.0M425.50 650.5V654.0M455.50 650.5V654.0M485.50 650.5V654.0M515.50 650.5V654.0" stroke="#000" stroke-width="1.9" fill="none"/>
<text transform="translate(294.5 656.0) scale(1.07 1)" font-size="18.1" text-anchor="end" class="ff-s" >0</text>
<text transform="translate(294.5 616.68) scale(1.07 1)" font-size="18.1" text-anchor="end" class="ff-s" >20</text>
<text transform="translate(294.5 577.36) scale(1.07 1)" font-size="18.1" text-anchor="end" class="ff-s" >40</text>
<text transform="translate(294.5 538.04) scale(1.07 1)" font-size="18.1" text-anchor="end" class="ff-s" >60</text>
<text transform="translate(294.5 498.72) scale(1.07 1)" font-size="18.1" text-anchor="end" class="ff-s" >80</text>
<text transform="translate(294.5 459.4) scale(0.95 1)" font-size="18.1" text-anchor="end" class="ff-s" >100</text>
<text transform="translate(322.5 673.5) scale(1.07 1)" font-size="18.1" text-anchor="middle" class="ff-s" >0</text>
<text transform="translate(352.5 673.5) scale(1.07 1)" font-size="18.1" text-anchor="middle" class="ff-s" >2</text>
<text transform="translate(383 673.5) scale(1.07 1)" font-size="18.1" text-anchor="middle" class="ff-s" >4</text>
<text transform="translate(412.5 673.5) scale(1.07 1)" font-size="18.1" text-anchor="middle" class="ff-s" >6</text>
<text transform="translate(442.5 673.5) scale(1.07 1)" font-size="18.1" text-anchor="middle" class="ff-s" >8</text>
<text transform="translate(473.3 673.5) scale(1.07 1)" font-size="18.1" text-anchor="middle" class="ff-s" >12</text>
<text transform="translate(503.3 673.5) scale(1.07 1)" font-size="18.1" text-anchor="middle" class="ff-s" >24</text>
<text x="313.7" y="477" font-size="21.8" text-anchor="start" class="ff-s" font-weight="normal" >CEM</text>
<text x="238" y="696" font-size="21.3" text-anchor="start" class="ff-s" font-weight="normal" >Time (hours)</text>
<text transform="translate(19.7 632.5) rotate(-90)" font-size="21.6" class="ff-s">Apoptotic cells (%)</text>
</svg></body></html>
